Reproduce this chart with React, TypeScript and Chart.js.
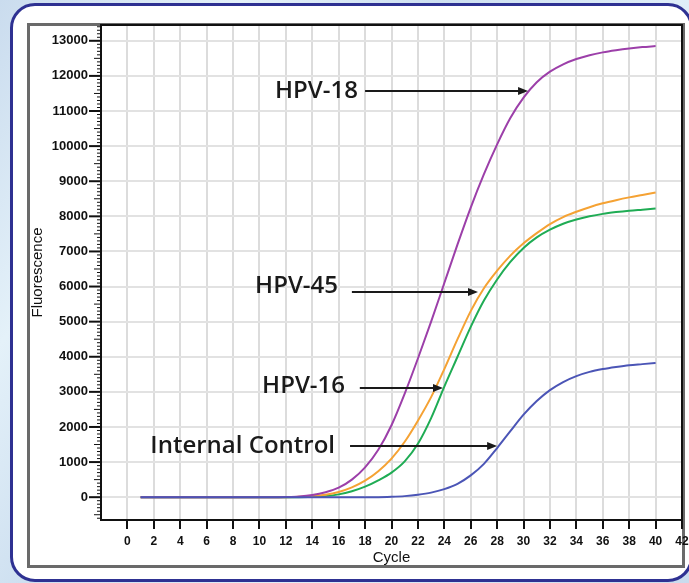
import React, { useEffect, useRef } from 'react';
import { Chart, registerables } from 'chart.js';

Chart.register(...registerables);

// ---- data ----
const cycles = [1, 2, 3, 4, 5, 6, 7, 8, 9, 10, 11, 12, 13, 14, 15, 16, 17, 18, 19, 20, 21, 22, 23, 24, 25, 26, 27, 28, 29, 30, 31, 32, 33, 34, 35, 36, 37, 38, 39, 40];

const hpv18 = [0, 0, 0, 0, 0, 0, 0, 0, 0, 0, 0, 5, 20, 60, 140, 270, 500, 850, 1350, 2050, 2950, 3950, 5000, 6100, 7200, 8250, 9200, 10050, 10800, 11380, 11820, 12120, 12330, 12480, 12590, 12670, 12730, 12780, 12820, 12850];
const hpv45 = [0, 0, 0, 0, 0, 0, 0, 0, 0, 0, 0, 0, 10, 30, 70, 150, 280, 470, 740, 1100, 1580, 2180, 2850, 3650, 4500, 5300, 5950, 6450, 6880, 7230, 7520, 7780, 7980, 8130, 8260, 8370, 8460, 8540, 8610, 8680];
const hpv16 = [0, 0, 0, 0, 0, 0, 0, 0, 0, 0, 0, 0, 0, 10, 30, 80, 170, 300, 480, 700, 1020, 1520, 2250, 3150, 4000, 4850, 5600, 6200, 6700, 7100, 7400, 7620, 7790, 7910, 8000, 8070, 8120, 8160, 8190, 8220];
const internalControl = [0, 0, 0, 0, 0, 0, 0, 0, 0, 0, 0, 0, 0, 0, 0, 0, 0, 0, 0, 10, 30, 70, 130, 230, 380, 620, 950, 1400, 1880, 2350, 2740, 3050, 3280, 3450, 3570, 3650, 3710, 3760, 3790, 3820];

const seriesNames = ['Internal Control', 'HPV-18', 'HPV-45', 'HPV-16'];
const seriesColors = ['#4b55b6', '#9c3fa9', '#f5a233', '#1fac54'];

const yTickValues = [0, 1000, 2000, 3000, 4000, 5000, 6000, 7000, 8000, 9000, 10000, 11000, 12000, 13000];
const xTickValues = [-2, 0, 2, 4, 6, 8, 10, 12, 14, 16, 18, 20, 22, 24, 26, 28, 30, 32, 34, 36, 38, 40, 42];

// annotation labels: text, text right edge (cycle), text baseline (value), arrow start (cycle), arrow tip (cycle, value)
const annLabels = ['HPV-18', 'HPV-45', 'HPV-16', 'Internal Control'];
const annTextRight = [17.46, 15.95, 16.48, 15.72];
const annTextBase = [11371, 5816, 2968, 1258];
const annArrowStart = [18.0, 17.0, 17.6, 16.86];
const annTipX = [30.34, 26.55, 23.9, 28.0];
const annTipY = [11570, 5845, 3110, 1458];

const xMin = -2;
const xMax = 42;
const yMin = -650;
const yMax = 13450;

const TICK_FONT = '"Liberation Sans", Arial, sans-serif';

const extrasPlugin = {
  id: 'extras',
  afterDraw(chart: any) {
    const { ctx, chartArea } = chart;
    const x = chart.scales.x;
    const y = chart.scales.y;
    ctx.save();
    // plot frame top & right
    ctx.strokeStyle = '#111';
    ctx.lineWidth = 2;
    ctx.beginPath();
    ctx.moveTo(chartArea.left, chartArea.top);
    ctx.lineTo(chartArea.right, chartArea.top);
    ctx.lineTo(chartArea.right, chartArea.bottom);
    ctx.stroke();
    // y ruler ticks
    for (let v = -600; v <= 13400; v += 100) {
      const py = y.getPixelForValue(v);
      const major = v % 1000 === 0;
      const mid = !major && v % 500 === 0;
      const len = major ? 12 : mid ? 7 : 4;
      ctx.lineWidth = major ? 2 : 1;
      ctx.beginPath();
      ctx.moveTo(chartArea.left - len, py);
      ctx.lineTo(chartArea.left, py);
      ctx.stroke();
    }
    // annotations
    ctx.fillStyle = '#1a1a1a';
    ctx.strokeStyle = '#1a1a1a';
    ctx.font = '600 24px "Open Sans", sans-serif';
    ctx.textAlign = 'right';
    ctx.textBaseline = 'alphabetic';
    for (let i = 0; i < annLabels.length; i++) {
      ctx.fillText(annLabels[i], x.getPixelForValue(annTextRight[i]), y.getPixelForValue(annTextBase[i]));
      const sx = x.getPixelForValue(annArrowStart[i]);
      const tx = x.getPixelForValue(annTipX[i]);
      const ty = y.getPixelForValue(annTipY[i]);
      ctx.lineWidth = 2;
      ctx.beginPath();
      ctx.moveTo(sx, ty);
      ctx.lineTo(tx - 8, ty);
      ctx.stroke();
      ctx.beginPath();
      ctx.moveTo(tx, ty);
      ctx.lineTo(tx - 10, ty - 4);
      ctx.lineTo(tx - 10, ty + 4);
      ctx.closePath();
      ctx.fill();
    }
    ctx.restore();
  },
};

export default function App() {
  const canvasRef = useRef<HTMLCanvasElement | null>(null);

  useEffect(() => {
    const canvas = canvasRef.current;
    if (!canvas) return;
    const seriesValues = [internalControl, hpv18, hpv45, hpv16];
    const chart = new Chart(canvas, {
      type: 'line',
      data: {
        datasets: seriesValues.map((vals, i) => ({
          label: seriesNames[i],
          data: cycles.map((c, j) => ({ x: c, y: vals[j] })),
          borderColor: seriesColors[i],
          backgroundColor: seriesColors[i],
          borderWidth: 2,
          pointRadius: 0,
          fill: false,
          cubicInterpolationMode: 'monotone' as const,
        })),
      },
      options: {
        animation: false,
        responsive: false,
        events: [],
        layout: { padding: { left: 29, top: 25, right: 7, bottom: 16 } },
        plugins: { legend: { display: false }, tooltip: { enabled: false } },
        scales: {
          x: {
            type: 'linear',
            min: xMin,
            max: xMax,
            afterBuildTicks: (s: any) => {
              s.ticks = xTickValues.map((v) => ({ value: v }));
            },
            afterFit: (s: any) => {
              s.height = 47;
              s.paddingLeft = 0;
              s.paddingRight = 0;
            },
            ticks: {
              autoSkip: false,
              maxRotation: 0,
              minRotation: 0,
              padding: 5,
              color: '#111',
              font: { family: TICK_FONT, size: 12, weight: 'bold' },
              callback: (v: any) => (Number(v) < 0 ? '' : String(v)),
            },
            grid: {
              color: (c: any) => (c.tick && (c.tick.value < 0 || c.tick.value >= 42) ? 'rgba(0,0,0,0)' : '#dcdcdc'),
              lineWidth: 2,
              tickLength: 9,
              tickWidth: 2,
              tickColor: (c: any) => (c.tick && c.tick.value < 0 ? 'rgba(0,0,0,0)' : '#111'),
            },
            border: { color: '#111', width: 2 },
            title: {
              display: true,
              text: 'Cycle',
              color: '#111',
              font: { family: TICK_FONT, size: 15 },
              padding: { top: 0, bottom: 0 },
            },
          },
          y: {
            type: 'linear',
            min: yMin,
            max: yMax,
            afterBuildTicks: (s: any) => {
              s.ticks = yTickValues.map((v) => ({ value: v }));
            },
            afterFit: (s: any) => {
              s.width = 72;
              s.paddingTop = 0;
              s.paddingBottom = 0;
            },
            ticks: {
              autoSkip: false,
              padding: 13,
              color: '#111',
              font: { family: TICK_FONT, size: 13, weight: 'bold' },
              callback: (v: any) => String(v),
            },
            grid: {
              color: '#e2e2e2',
              lineWidth: 2,
              drawTicks: false,
            },
            border: { color: '#111', width: 2 },
            title: {
              display: true,
              text: 'Fluorescence',
              color: '#111',
              font: { family: TICK_FONT, size: 15 },
              padding: { top: 0, bottom: 0 },
            },
          },
        },
      },
      plugins: [extrasPlugin],
    } as any);
    return () => chart.destroy();
  }, []);

  return (
    <div
      style={{
        position: 'absolute',
        left: 0,
        top: 0,
        width: 689,
        height: 583,
        overflow: 'hidden',
        background:
          'linear-gradient(125deg, #cadcee 0%, #e4f1f9 22%, #cddff0 40%, #dfeef8 62%, #c9dbed 100%)',
      }}
    >
      <div
        style={{
          position: 'absolute',
          left: 10,
          top: 3,
          width: 683,
          height: 579,
          boxSizing: 'border-box',
          border: '3px solid #2e3192',
          borderRadius: 25,
          background: '#ffffff',
        }}
      />
      <div
        style={{
          position: 'absolute',
          left: 27,
          top: 23,
          width: 658,
          height: 545,
          boxSizing: 'border-box',
          border: '3px solid #6a6a6a',
        }}
      />
      <canvas
        ref={canvasRef}
        width={689}
        height={583}
        style={{ position: 'absolute', left: 0, top: 0, width: 689, height: 583 }}
      />
    </div>
  );
}
